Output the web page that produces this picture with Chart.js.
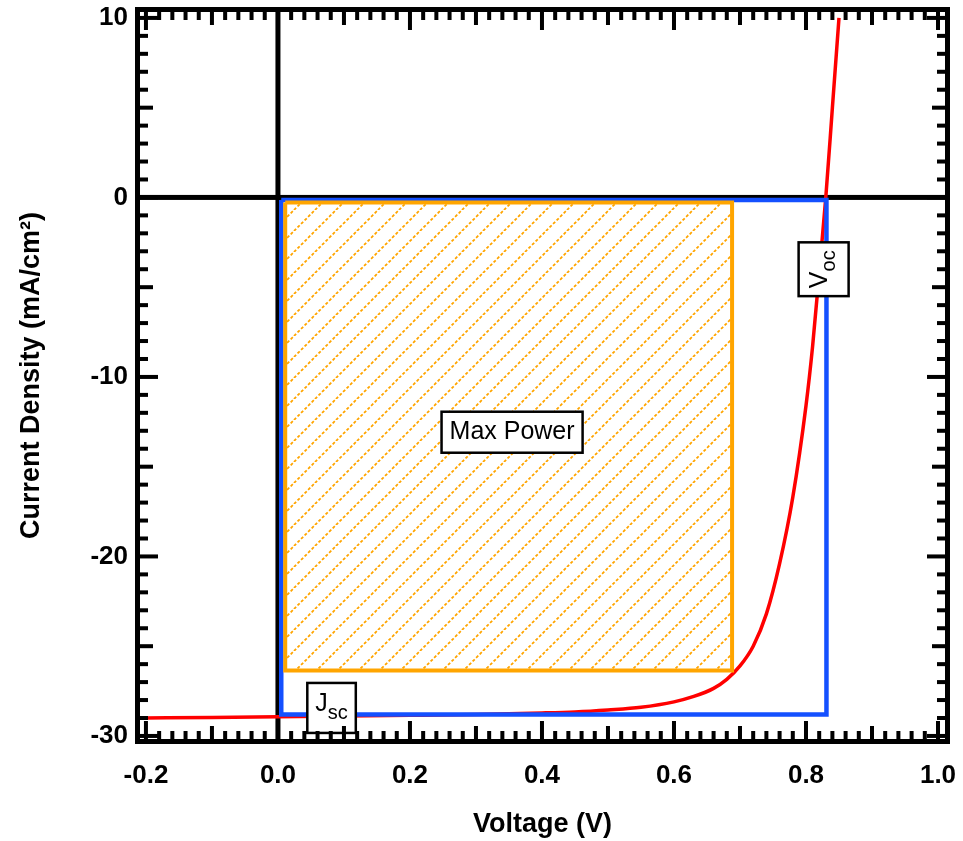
<!DOCTYPE html>
<html>
<head>
<meta charset="utf-8">
<script src="https://cdn.jsdelivr.net/npm/chart.js@4.4.0/dist/chart.umd.min.js"></script>
<style>
  html, body { margin: 0; padding: 0; background: #fff; }
  #contenedor { width: 963px; height: 841px; }
</style>
</head>
<body>
<div id="contenedor"><canvas id="curva_jv"></canvas></div>
<script>
// curva J-V medida (V, mA/cm2)
const voltaje = [-0.2, -0.1, 0.0, 0.1, 0.2, 0.3, 0.4, 0.45, 0.5, 0.55, 0.6, 0.63, 0.66, 0.68, 0.7, 0.72, 0.74, 0.76, 0.78, 0.8, 0.81, 0.82, 0.83, 0.84, 0.85];
const densidad = [-29.0, -28.97, -28.93, -28.89, -28.85, -28.8, -28.72, -28.66, -28.55, -28.4, -28.1, -27.8, -27.35, -26.85, -26.1, -25.0, -23.2, -20.4, -16.7, -11.6, -8.3, -4.2, 0.0, 5.0, 10.0];

// rectangulo Voc x Jsc
const ideal_x = [0.005, 0.831, 0.831, 0.005, 0.005];
const ideal_y = [-0.14, -0.14, -28.8, -28.8, -0.14];

// rectangulo de potencia maxima
const pmax_x = [0.011, 0.688, 0.688, 0.011, 0.011];
const pmax_y = [-0.28, -0.28, -26.35, -26.35, -0.28];

// ejes
const ticks_x = [-0.2, 0.0, 0.2, 0.4, 0.6, 0.8, 1.0];
const etiquetas_x = ["-0.2", "0.0", "0.2", "0.4", "0.6", "0.8", "1.0"];
const ticks_y = [10, 0, -10, -20, -30];
const etiquetas_y = ["10", "0", "-10", "-20", "-30"];

// anotaciones
const anot_x = [0.3547, 0.0812, 0.8267];
const anot_y = [-13.08, -28.44, -4.0];
const anot_texto = ["Max Power", "J", "V"];
const anot_sub = ["", "sc", "oc"];
const anot_giro = [0, 0, -90];

const fuente = "'Liberation Sans', Arial, Helvetica, sans-serif";
Chart.defaults.font.family = fuente;
Chart.defaults.color = "#000";

function a_puntos(xs, ys) {
  return xs.map((v, i) => ({ x: v, y: ys[i] }));
}

function crear_rayado() {
  const s = 21;
  const c = document.createElement("canvas");
  c.width = s;
  c.height = s;
  const g = c.getContext("2d");
  g.strokeStyle = "#ffa500";
  g.lineWidth = 1.8;
  g.setLineDash([3, 2]);
  g.beginPath();
  for (let k = -1; k <= 1; k++) {
    g.moveTo(k * s, s);
    g.lineTo(k * s + s, 0);
  }
  g.stroke();
  return g.createPattern(c, "repeat");
}

function dibujar_caja(ctx, cx, cy, texto, sub, giro) {
  const t1 = sub ? 25 : 25, t2 = 20;
  ctx.save();
  ctx.translate(cx, cy);
  ctx.rotate((giro * Math.PI) / 180);
  ctx.font = t1 + "px " + fuente;
  const w1 = ctx.measureText(texto).width;
  ctx.font = t2 + "px " + fuente;
  const w2 = sub ? ctx.measureText(sub).width : 0;
  const w = w1 + w2 + 16;
  const h = sub ? 50 : 41;
  ctx.fillStyle = "#fff";
  ctx.fillRect(-w / 2, -h / 2, w, h);
  ctx.strokeStyle = "#000";
  ctx.lineWidth = 2.5;
  ctx.strokeRect(-w / 2, -h / 2, w, h);
  ctx.fillStyle = "#000";
  ctx.textBaseline = "middle";
  ctx.textAlign = "left";
  const x0 = -(w1 + w2) / 2;
  const dy = sub ? -4 : 0;
  ctx.font = t1 + "px " + fuente;
  ctx.fillText(texto, x0, dy);
  if (sub) {
    ctx.font = t2 + "px " + fuente;
    ctx.fillText(sub, x0 + w1, dy + 10);
  }
  ctx.restore();
}

const plugin_marco = {
  id: "marco",
  beforeDatasetsDraw(chart) {
    const { ctx, chartArea: a, scales } = chart;
    const x0 = scales.x.getPixelForValue(0);
    const y0 = scales.y.getPixelForValue(0);
    ctx.save();
    ctx.fillStyle = "#000";
    ctx.fillRect(x0 - 2.5, a.top, 5, a.bottom - a.top);
    ctx.fillRect(a.left, y0 - 2.5, a.right - a.left, 5);
    ctx.restore();
  },
  afterDatasetsDraw(chart) {
    const { ctx, scales } = chart;
    anot_texto.forEach((t, i) => {
      dibujar_caja(
        ctx,
        scales.x.getPixelForValue(anot_x[i]),
        scales.y.getPixelForValue(anot_y[i]),
        t,
        anot_sub[i],
        anot_giro[i]
      );
    });
  },
  afterDraw(chart) {
    const { ctx, chartArea: a, scales } = chart;
    ctx.save();
    ctx.fillStyle = "#000";
    // marcas de x cada 0.02
    for (let i = -10; i <= 50; i++) {
      const px = scales.x.getPixelForValue(i * 0.02);
      const largo = i % 10 === 0 ? 18 : i % 5 === 0 ? 13 : 8;
      ctx.fillRect(px - 2, a.bottom - largo, 4, largo);
      ctx.fillRect(px - 2, a.top, 4, largo);
    }
    // marcas de y cada 1
    for (let v = -30; v <= 10; v++) {
      const py = scales.y.getPixelForValue(v);
      const largo = v % 10 === 0 ? 18 : v % 5 === 0 ? 13 : 8;
      ctx.fillRect(a.left, py - 2, largo, 4);
      ctx.fillRect(a.right - largo, py - 2, largo, 4);
    }
    // marco
    const g = 5;
    ctx.fillRect(a.left - g, a.top - g, a.right - a.left + 2 * g, g);
    ctx.fillRect(a.left - g, a.bottom, a.right - a.left + 2 * g, g);
    ctx.fillRect(a.left - g, a.top - g, g, a.bottom - a.top + 2 * g);
    ctx.fillRect(a.right, a.top - g, g, a.bottom - a.top + 2 * g);
    ctx.restore();
  },
};

function sin_relleno_extra(scale) {
  scale.paddingLeft = 0;
  scale.paddingRight = 0;
  scale.paddingTop = 0;
  scale.paddingBottom = 0;
}

const ctx = document.getElementById("curva_jv").getContext("2d");
new Chart(ctx, {
  type: "line",
  data: {
    datasets: [
      {
        label: "Max Power",
        data: a_puntos(pmax_x, pmax_y),
        borderColor: "#ffa500",
        borderWidth: 4,
        pointRadius: 0,
        fill: false,
        tension: 0,
        order: 1,
      },
      {
        label: "relleno",
        data: a_puntos(pmax_x.slice(0, 2), pmax_y.slice(0, 2)),
        borderWidth: 0,
        pointRadius: 0,
        backgroundColor: crear_rayado(),
        fill: { value: pmax_y[2] },
        order: 2,
      },
      {
        label: "Voc x Jsc",
        data: a_puntos(ideal_x, ideal_y),
        borderColor: "#1450ff",
        borderWidth: 4.5,
        pointRadius: 0,
        fill: false,
        tension: 0,
        order: 3,
      },
      {
        label: "J-V",
        data: a_puntos(voltaje, densidad),
        borderColor: "#ff0000",
        borderWidth: 3.5,
        pointRadius: 0,
        fill: false,
        cubicInterpolationMode: "monotone",
        order: 4,
      },
    ],
  },
  options: {
    responsive: true,
    maintainAspectRatio: false,
    animation: false,
    layout: { padding: { top: 12, right: 18, left: 0, bottom: 0 } },
    plugins: {
      legend: { display: false },
      tooltip: { enabled: false },
    },
    scales: {
      x: {
        type: "linear",
        min: -0.209,
        max: 1.0106,
        grid: { display: false, drawTicks: false },
        border: { display: false },
        afterBuildTicks: (scale) => {
          scale.ticks = ticks_x.map((v) => ({ value: v }));
        },
        afterFit: (scale) => {
          scale.height = 102;
          sin_relleno_extra(scale);
        },
        ticks: {
          autoSkip: false,
          maxRotation: 0,
          padding: 21,
          font: { size: 26, weight: "bold" },
          callback: (value) => etiquetas_x[ticks_x.findIndex((t) => Math.abs(t - value) < 1e-6)],
        },
        title: {
          display: true,
          text: "Voltage (V)",
          font: { size: 27, weight: "bold" },
          padding: { top: 0, bottom: 0 },
        },
      },
      y: {
        type: "linear",
        min: -30.17,
        max: 10.33,
        grid: { display: false, drawTicks: false },
        border: { display: false },
        afterBuildTicks: (scale) => {
          scale.ticks = ticks_y.map((v) => ({ value: v }));
        },
        afterFit: (scale) => {
          scale.width = 140;
          sin_relleno_extra(scale);
        },
        ticks: {
          autoSkip: false,
          padding: 12,
          font: { size: 26, weight: "bold" },
          callback: (value) => etiquetas_y[ticks_y.indexOf(value)],
        },
        title: {
          display: true,
          text: "Current Density (mA/cm²)",
          font: { size: 27, weight: "bold" },
          padding: { top: 15, bottom: 0 },
        },
      },
    },
  },
  plugins: [plugin_marco],
});
</script>
</body>
</html>
